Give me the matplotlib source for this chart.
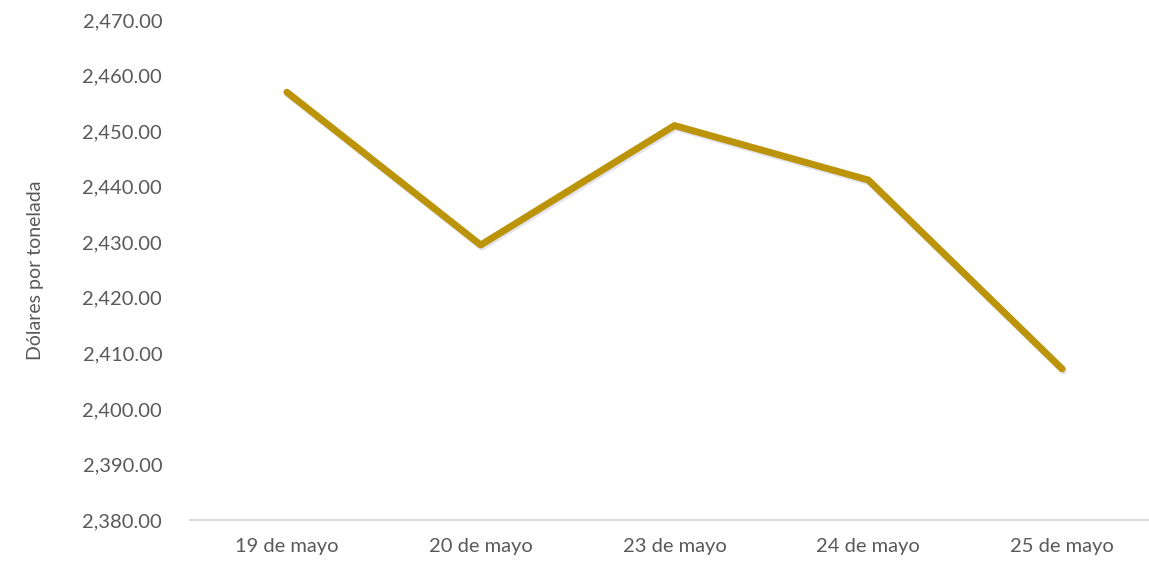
import matplotlib.pyplot as plt
import matplotlib.patheffects as pe
import numpy as np

fechas = ["19 de mayo", "20 de mayo", "23 de mayo", "24 de mayo", "25 de mayo"]
precios = [2457.0, 2429.5, 2451.0, 2441.2, 2407.2]
y_ticks = np.arange(2380, 2471, 10)

plt.rcParams['font.family'] = ['Lato', 'DejaVu Sans']

fig = plt.figure(figsize=(11.49, 5.62), dpi=100)
ax = fig.add_axes([190/1149, 42/562, 969/1149, 500/562])

x = np.arange(len(fechas))
ax.plot(x, precios, color='#BC940A', linewidth=5, solid_capstyle='round',
        solid_joinstyle='round',
        path_effects=[pe.SimpleLineShadow(offset=(1, -1.5), shadow_color='#9090c0', alpha=0.25),
                      pe.Normal()])

ax.set_xlim(-0.5, len(fechas) - 0.5)
ax.set_ylim(2380, 2470)
ax.set_xticks(x)
ax.set_xticklabels(fechas)
ax.set_yticks(y_ticks)
ax.set_yticklabels(["{:,.2f}".format(v) for v in y_ticks])
ax.tick_params(axis='both', length=0, labelsize=14.5, colors='#595959')
ax.tick_params(axis='x', pad=13)
ax.tick_params(axis='y', pad=20)

for s in ['top', 'right', 'left']:
    ax.spines[s].set_visible(False)
ax.spines['bottom'].set_color('#D9D9D9')
ax.spines['bottom'].set_linewidth(1.5)

ax.set_ylabel("Dólares por tonelada", fontsize=14, color='#595959', labelpad=28)

fig.savefig("out.png", dpi=100)
